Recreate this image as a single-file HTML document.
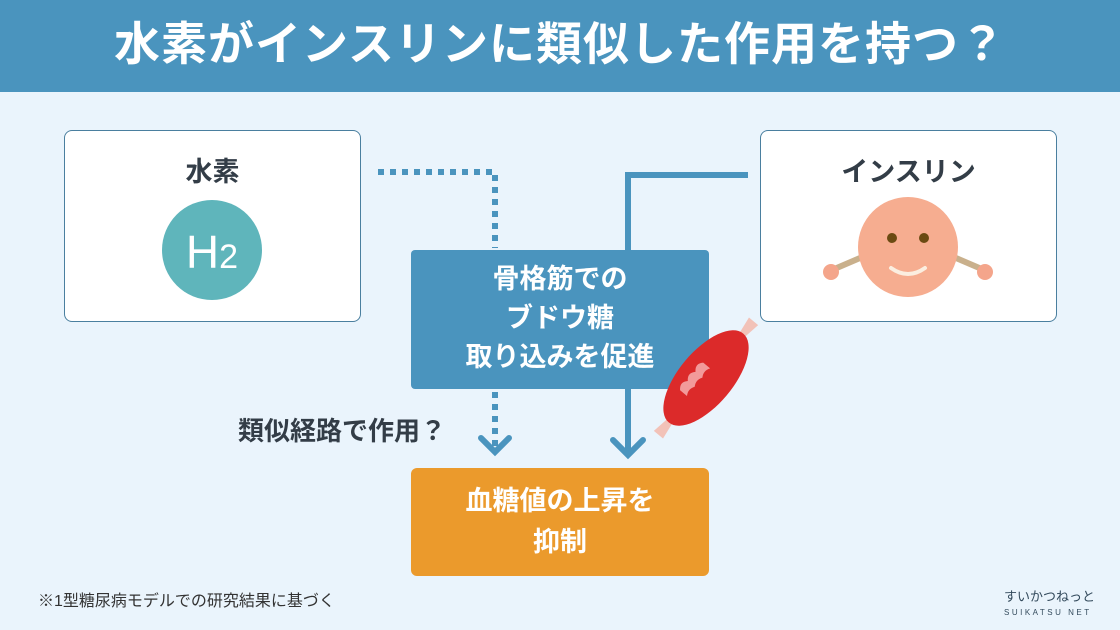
<!DOCTYPE html>
<html><head><meta charset="utf-8"><style>
body{margin:0;width:1120px;height:630px;overflow:hidden;background:#eaf4fc;font-family:"Liberation Sans","Noto Sans CJK JP",sans-serif;position:relative}
.hd{position:absolute;left:0;top:0;width:1120px;height:92px;background:#4a94be;color:#fff;font-size:46px;font-weight:bold;text-align:center;line-height:88px;letter-spacing:1px}
.box{position:absolute;background:#fff;border:1px solid #4a7f9f;border-radius:8px;box-sizing:border-box}
.t{position:absolute;font-weight:bold;color:#333d47}
</style></head><body>
<div class="hd">水素がインスリンに類似した作用を持つ？</div>
<div class="box" style="left:64px;top:130px;width:297px;height:192px"></div>
<div class="box" style="left:760px;top:130px;width:297px;height:192px"></div>
<div class="t" style="left:64px;width:297px;top:150px;text-align:center;font-size:27px">水素</div>
<div class="t" style="left:760px;width:297px;top:150px;text-align:center;font-size:27px">インスリン</div>
<svg style="position:absolute;left:0;top:0" width="1120" height="630">
<circle cx="212" cy="250" r="50" fill="#5fb5bb"/>
<text x="212" y="268" text-anchor="middle" font-size="46" fill="#fff" font-family="Liberation Sans">H<tspan font-size="34">2</tspan></text>
<line x1="860" y1="258" x2="832" y2="270" stroke="#c9b08c" stroke-width="6"/>
<line x1="956" y1="258" x2="984" y2="270" stroke="#c9b08c" stroke-width="6"/>
<circle cx="831" cy="272" r="8" fill="#f4a58b"/><circle cx="985" cy="272" r="8" fill="#f4a58b"/>
<circle cx="908" cy="247" r="50" fill="#f6ad90"/>
<circle cx="892" cy="238" r="5" fill="#6b4a12"/><circle cx="924" cy="238" r="5" fill="#6b4a12"/>
<path d="M891 268 Q908 280 925 268" stroke="#fbeee0" stroke-width="4" fill="none" stroke-linecap="round"/>
<path d="M378 172 H495 V248" stroke="#4a94be" stroke-width="6" fill="none" stroke-dasharray="6 6"/>
<path d="M495 392 V450" stroke="#4a94be" stroke-width="6" fill="none" stroke-dasharray="6 6"/>
<path d="M481 438 L495 452 L509 438" stroke="#4a94be" stroke-width="6" fill="none" stroke-linecap="round"/>
<path d="M748 175 H628 V250" stroke="#4a94be" stroke-width="6" fill="none"/>
<path d="M628 389 V455" stroke="#4a94be" stroke-width="6" fill="none"/>
<path d="M613 440 L628 455 L643 440" stroke="#4a94be" stroke-width="6" fill="none" stroke-linecap="round"/>
<rect x="411" y="250" width="298" height="139" rx="4" fill="#4a94be"/>
<rect x="411" y="468" width="298" height="108" rx="6" fill="#eb9a2c"/>
<g transform="translate(706,378) rotate(-50)">
<path d="M-74 -6 L-54 -3 L-54 3 L-74 6 Z" fill="#f2c2b8"/><path d="M74 -6 L54 -3 L54 3 L74 6 Z" fill="#f2c2b8"/>
<ellipse cx="0" cy="0" rx="58" ry="27" fill="#dc2a2a"/>
<path d="M-26 -12 q6 -6 12 0 q6 -6 12 0 q6-6 12 0 v9 q-6 -4 -12 0 q-6-4-12 0 q-6-4-12 0z" fill="#f29a9a"/>
</g>
</svg>
<div class="t" style="left:411px;width:298px;top:260px;text-align:center;font-size:27px;line-height:39px;color:#fff">骨格筋での<br>ブドウ糖<br>取り込みを促進</div>
<div class="t" style="left:411px;width:298px;top:481px;text-align:center;font-size:27px;line-height:41px;color:#fff">血糖値の上昇を<br>抑制</div>
<div class="t" style="left:238px;top:411px;font-size:26px">類似経路で作用？</div>
<div style="position:absolute;left:38px;top:587px;font-size:16px;color:#333">※1型糖尿病モデルでの研究結果に基づく</div>
<div style="position:absolute;left:1004px;top:590px;font-size:13px;color:#334a5c;line-height:14px">すいかつねっと<br><span style="font-size:8px;letter-spacing:2.5px">SUIKATSU NET</span></div>
</body></html>
